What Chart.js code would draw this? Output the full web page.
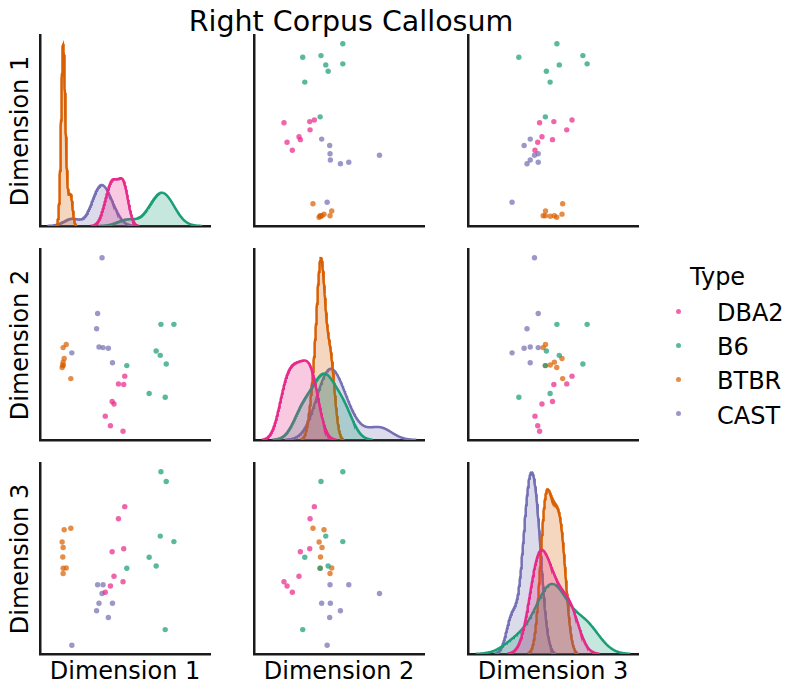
<!DOCTYPE html>
<html>
<head>
<meta charset="utf-8">
<script src="https://cdn.jsdelivr.net/npm/chart.js@4/dist/chart.umd.min.js"></script>
<style>
  body { margin: 0; background: #fff; width: 802px; height: 694px; position: relative; overflow: hidden;
         font-family: "DejaVu Sans", sans-serif; color: #000; }
  canvas { position: absolute; }
  .txt { position: absolute; line-height: 1; white-space: nowrap; }
  .dot { position: absolute; width: 5px; height: 5px; border-radius: 50%; }
</style>
</head>
<body>
<div class="txt" style="font-size:28.5px; left:351px; top:7.5px; transform:translateX(-50%);">Right Corpus Callosum</div>
<div id="labels"></div>
<div id="legend"></div>

<script>
const typeNames = ['DBA2', 'B6', 'BTBR', 'CAST'];
const typeColors = ['#e7298a', '#1b9e77', '#d95f02', '#7570b3'];
const dimNames = ['Dimension 1', 'Dimension 2', 'Dimension 3'];

// one entry per sample (8 per type)
const sampleType = [
  'DBA2', 'DBA2', 'DBA2', 'DBA2', 'DBA2', 'DBA2', 'DBA2', 'DBA2',
  'B6', 'B6', 'B6', 'B6', 'B6', 'B6', 'B6', 'B6',
  'BTBR', 'BTBR', 'BTBR', 'BTBR', 'BTBR', 'BTBR', 'BTBR', 'BTBR',
  'CAST', 'CAST', 'CAST', 'CAST', 'CAST', 'CAST', 'CAST', 'CAST'
];
const dim1 = [
  49.2, 45.5, 41.8, 48.6, 42.9, 48.2, 40.8, 37.8,
  70.4, 73.5, 70.0, 78.0, 63.5, 67.6, 50.4, 72.9,
  17.6, 13.7, 12.5, 13.1, 12.9, 14.9, 13.1, 13.1,
  33.3, 36.5, 35.9, 34.1, 42.0, 32.7, 39.6, 18.2
];
const dim2 = [
  35.0, 32.5, 26.8, 32.3, 26.0, 17.2, 19.0, 22.1,
  51.7, 38.9, 41.7, 51.7, 29.4, 43.1, 38.4, 28.2,
  34.2, 40.7, 37.8, 39.5, 38.6, 45.2, 38.4, 44.2,
  55.2, 44.2, 73.2, 44.4, 39.3, 50.3, 44.0, 42.5
];
const dim3 = [
  60.5, 57.4, 49.0, 49.8, 42.8, 41.4, 40.3, 38.7,
  69.4, 66.9, 53.0, 51.6, 47.6, 45.4, 44.8, 29.2,
  55.0, 54.6, 51.5, 50.1, 47.7, 44.9, 44.8, 43.5,
  40.6, 40.6, 38.4, 35.9, 35.9, 34.0, 32.3, 25.2
];

(function () {
  const dims = [dim1, dim2, dim3];
  const panelLeft = [40, 254, 468];
  const panelTop = [35, 249, 463];
  const panelW = 170, panelH = 191, pad = 6;

  function rgba(hex, a) {
    const n = parseInt(hex.slice(1), 16);
    return 'rgba(' + (n >> 16) + ',' + ((n >> 8) & 255) + ',' + (n & 255) + ',' + a + ')';
  }

  function valuesOf(dim, type) {
    return dim.filter((v, i) => sampleType[i] === type);
  }

  // gaussian kde, scott bandwidth, cut = 3, like seaborn
  function kdeCurve(vals, weight) {
    const n = vals.length;
    const mean = vals.reduce((a, b) => a + b, 0) / n;
    const sd = Math.sqrt(vals.reduce((a, v) => a + (v - mean) * (v - mean), 0) / (n - 1));
    const bw = sd * Math.pow(n, -1 / 5);
    const lo = Math.min(...vals) - 3 * bw;
    const hi = Math.max(...vals) + 3 * bw;
    const pts = [];
    for (let i = 0; i < 200; i++) {
      const x = lo + (hi - lo) * i / 199;
      let s = 0;
      vals.forEach(function (v) { const z = (x - v) / bw; s += Math.exp(-0.5 * z * z); });
      pts.push({ x: x, y: weight * s / (n * bw * Math.sqrt(2 * Math.PI)) });
    }
    return pts;
  }

  function withMargin(lo, hi) {
    const m = (hi - lo) * 0.05;
    return [lo - m, hi + m];
  }

  const curves = dims.map(function (dim) {
    return typeNames.map(t => kdeCurve(valuesOf(dim, t), valuesOf(dim, t).length / dim.length));
  });

  const yRange = dims.map(d => withMargin(Math.min(...d), Math.max(...d)));
  const xRange = dims.map(function (d, k) {
    let lo = Math.min(...d), hi = Math.max(...d);
    curves[k].forEach(function (c) {
      lo = Math.min(lo, c[0].x);
      hi = Math.max(hi, c[c.length - 1].x);
    });
    return withMargin(lo, hi);
  });

  function axis(range) {
    return {
      type: 'linear', min: range[0], max: range[1], bounds: 'data',
      grid: { display: false, drawTicks: false, tickLength: 0 },
      ticks: { display: false, padding: 0 },
      border: { display: true, color: '#1a1a1a', width: 2.5 }
    };
  }

  for (let r = 0; r < 3; r++) {
    for (let c = 0; c < 3; c++) {
      const cv = document.createElement('canvas');
      cv.width = panelW + 2 * pad;
      cv.height = panelH + 2 * pad;
      cv.style.left = (panelLeft[c] - pad) + 'px';
      cv.style.top = (panelTop[r] - pad) + 'px';
      document.body.appendChild(cv);

      let datasets, yAxis;
      if (r === c) {
        datasets = typeNames.map(function (t, g) {
          return {
            data: curves[c][g],
            showLine: true,
            pointRadius: 0,
            borderColor: typeColors[g],
            borderWidth: 2.5,
            backgroundColor: rgba(typeColors[g], 0.25),
            fill: 'origin',
            tension: 0
          };
        });
        let top = 0;
        curves[c].forEach(cu => cu.forEach(p => { top = Math.max(top, p.y); }));
        yAxis = axis([0, top * 1.05]);
      } else {
        datasets = typeNames.map(function (t, g) {
          const pts = [];
          sampleType.forEach(function (s, i) {
            if (s === t) pts.push({ x: dims[c][i], y: dims[r][i] });
          });
          return {
            data: pts,
            pointRadius: 2.7,
            pointBorderWidth: 0,
            pointBackgroundColor: rgba(typeColors[g], 0.72),
            borderColor: rgba(typeColors[g], 0.72)
          };
        });
        yAxis = axis(yRange[r]);
      }

      new Chart(cv, {
        type: 'scatter',
        data: { datasets: datasets },
        options: {
          responsive: false,
          animation: false,
          events: [],
          layout: { padding: pad },
          plugins: { legend: { display: false }, tooltip: { enabled: false } },
          scales: { x: axis(xRange[c]), y: yAxis }
        }
      });
    }
  }

  // axis labels
  const labels = document.getElementById('labels');
  dimNames.forEach(function (name, k) {
    const bx = document.createElement('div');
    bx.className = 'txt';
    bx.style.fontSize = '24px';
    bx.style.left = (panelLeft[k] + panelW / 2) + 'px';
    bx.style.top = '659px';
    bx.style.transform = 'translateX(-50%)';
    bx.textContent = name;
    labels.appendChild(bx);

    const ly = document.createElement('div');
    ly.className = 'txt';
    ly.style.fontSize = '24px';
    ly.style.left = '20px';
    ly.style.top = (panelTop[k] + panelH / 2) + 'px';
    ly.style.transform = 'translate(-50%, -50%) rotate(-90deg)';
    ly.textContent = name;
    labels.appendChild(ly);
  });

  // legend
  const legend = document.getElementById('legend');
  const head = document.createElement('div');
  head.className = 'txt';
  head.style.fontSize = '24px';
  head.style.left = '690px';
  head.style.top = '265px';
  head.textContent = 'Type';
  legend.appendChild(head);
  typeNames.forEach(function (t, g) {
    const base = 321 + g * 34.3;
    const dot = document.createElement('div');
    dot.className = 'dot';
    dot.style.background = rgba(typeColors[g], 0.72);
    dot.style.left = '676px';
    dot.style.top = (base - 12.5) + 'px';
    legend.appendChild(dot);
    const tx = document.createElement('div');
    tx.className = 'txt';
    tx.style.fontSize = '24px';
    tx.style.left = '717px';
    tx.style.top = (base - 20.3) + 'px';
    tx.textContent = t;
    legend.appendChild(tx);
  });
})();
</script>
</body>
</html>
